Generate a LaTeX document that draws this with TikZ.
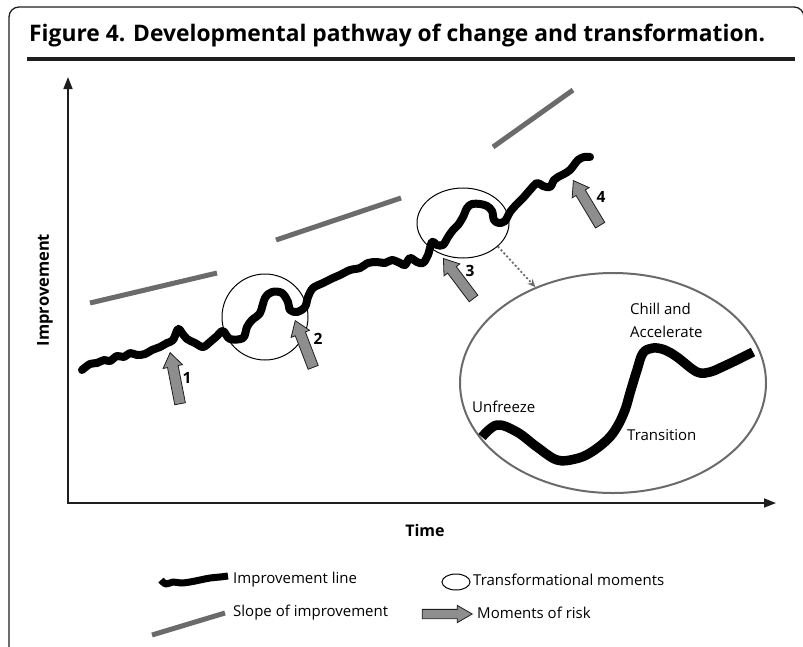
\documentclass[tikz,border=0pt]{standalone}
\usepackage{fontspec}
\setmainfont{Open Sans}
\usetikzlibrary{shapes.geometric,shapes.arrows,arrows.meta}
\definecolor{slopegray}{HTML}{6B6B6B}
\definecolor{arrowgray}{HTML}{8E8E8E}
\definecolor{insetgray}{HTML}{6A6A6A}
\definecolor{ink}{HTML}{1E1E1E}
\begin{document}
\begin{tikzpicture}[x=1pt,y=-1pt,
  frame/.style={draw=ink, line width=1.3pt},
  axis/.style={draw=ink, line width=1.6pt, {Triangle[length=12pt,width=9pt]}-{Triangle[length=12pt,width=9pt]}},
  impline/.style={draw=black, line width=8pt, line cap=round, line join=round},
  slopeline/.style={draw=slopegray, line width=5pt},
  tmoment/.style={ellipse, draw=black, line width=1pt, inner sep=0pt},
  riskarrow/.style={single arrow, draw=ink, fill=arrowgray, line width=0.8pt,
     inner xsep=0pt, inner ysep=5pt, single arrow head extend=4.5pt, single arrow tip angle=70, minimum height=52pt},
  lbl/.style={font=\fontsize{15}{18}\selectfont, inner sep=0pt},
  blbl/.style={font=\bfseries\fontsize{15.5}{18}\selectfont, inner sep=0pt},
]
\useasboundingbox (0,0) rectangle (803,646);
% frame
\draw[frame, rounded corners=10pt] (9,660) -- (9,7) -- (804,7) -- (804,660);
\node[anchor=base west, inner sep=0pt, font=\bfseries\fontsize{22.8}{26}\selectfont] (title) at (29,41) {Figure 4. Developmental pathway of change and transformation.};
\draw[draw=ink, line width=3.5pt] (27,59) -- (795,59);
% axes
\coordinate (ytop) at (68,77);
\coordinate (orig) at (68,503);
\coordinate (xend) at (776,503);
\draw[axis] (ytop) -- (orig) -- (xend);
\node[blbl, rotate=90, font=\bfseries\fontsize{16.5}{18}\selectfont] (ylab) at (45,290) {Improvement};
\node[blbl, font=\bfseries\fontsize{16}{18}\selectfont] (xlab) at (425,530) {Time};
% slopes
\draw[slopeline] (90,303) -- (217,273);
\draw[slopeline] (276,240) -- (401,198);
\draw[slopeline] (493,147) -- (573,90);
% transformational moments
\node[tmoment, minimum width=86pt, minimum height=86pt] (c2) at (265,317) {};
\node[tmoment, minimum width=92pt, minimum height=70pt] (c3) at (463,223) {};
% improvement line
\draw[impline] plot[smooth, tension=0.55] coordinates {
(82,370) (90,364) (97,363) (104,360) (110,361) (117,356) (124,357) (130,353) (137,355) (145,354)
(152,350) (160,347) (167,343) (173,340) (178,329) (182,333) (187,339) (195,343) (203,347) (210,342)
(217,336) (223,331) (230,339) (243,338) (247,327) (252,320) (260,313) (265,298) (272,292) (282,293)
(288,302) (290,310) (297,312) (305,307) (308,297) (313,288) (323,283) (333,278) (340,275) (350,270)
(360,268) (368,263) (377,262) (385,263) (392,260) (400,263) (405,265) (410,258) (417,262) (423,263)
(428,255) (432,242) (437,245) (443,245) (448,237) (453,230) (458,225) (463,217) (467,208) (472,204)
(480,204) (487,206) (492,211) (494,220) (499,223) (505,221) (510,212) (516,205) (523,198) (530,190)
(537,183) (543,186) (550,187) (554,180) (558,177) (564,174) (570,170) (574,165) (578,160) (584,157) (590,157)};
% moments of risk
\node[riskarrow, rotate=101, anchor=tip] (a1) at (170,352) {};
\node[riskarrow, rotate=111, anchor=tip, minimum height=50pt] (a2) at (295,320) {};
\node[riskarrow, rotate=127, anchor=tip, minimum height=50pt] (a3) at (443,258) {};
\node[riskarrow, rotate=121, anchor=tip] (a4) at (573,180) {};
\node[blbl] (n1) at (187,378) {1};
\node[blbl] (n2) at (318,339) {2};
\node[blbl] (n3) at (470,271) {3};
\node[blbl] (n4) at (601,197) {4};
% inset
\node[ellipse, draw=insetgray, line width=2pt, inner sep=0pt, minimum width=306pt, minimum height=220pt] (inset) at (613,383) {};
\draw[draw=insetgray, line width=1.8pt, dash pattern=on 2pt off 2.2pt, -{Stealth[length=8pt,width=7pt]}] (c3.-34) -- (inset.129);
\draw[draw=black, line width=9.5pt, line join=round] plot[smooth, tension=0.6] coordinates {
(482,437) (497,425) (517,432) (537,447) (557,460) (575,459) (590,453) (607,440) (617,427) (625,410)
(630,393) (637,370) (643,353) (653,348) (665,350) (677,357) (697,372) (710,372) (720,368) (737,360) (753,352)};
\node[lbl, anchor=west] (unf) at (472,407) {Unfreeze};
\node[lbl, anchor=west] (tra) at (627,435) {Transition};
\node[lbl, anchor=west, align=left, font=\fontsize{15}{23}\selectfont] (chi) at (630,320) {Chill and\\Accelerate};
% legend
\draw[draw=black, line width=7pt, line join=round] plot[smooth, tension=0.6] coordinates {
(161,580) (166,584) (173,582) (181,583) (190,582) (200,580) (210,578) (220,577) (228,576)};
\node[lbl, anchor=west] (lg1) at (233,580) {Improvement line};
\node[tmoment, minimum width=28pt, minimum height=16pt] (lgc) at (456,582) {};
\node[lbl, anchor=west] (lg2) at (473,580) {Transformational moments};
\draw[slopeline] (152,635) -- (225,613);
\node[lbl, anchor=west] (lg3) at (233,613) {Slope of improvement};
\node[riskarrow, anchor=tip, minimum height=50pt, inner ysep=4.25pt, single arrow head extend=4pt, single arrow tip angle=60] (lga) at (473,614) {};
\node[lbl, anchor=west] (lg4) at (477,613) {Moments of risk};
\end{tikzpicture}
\end{document}
